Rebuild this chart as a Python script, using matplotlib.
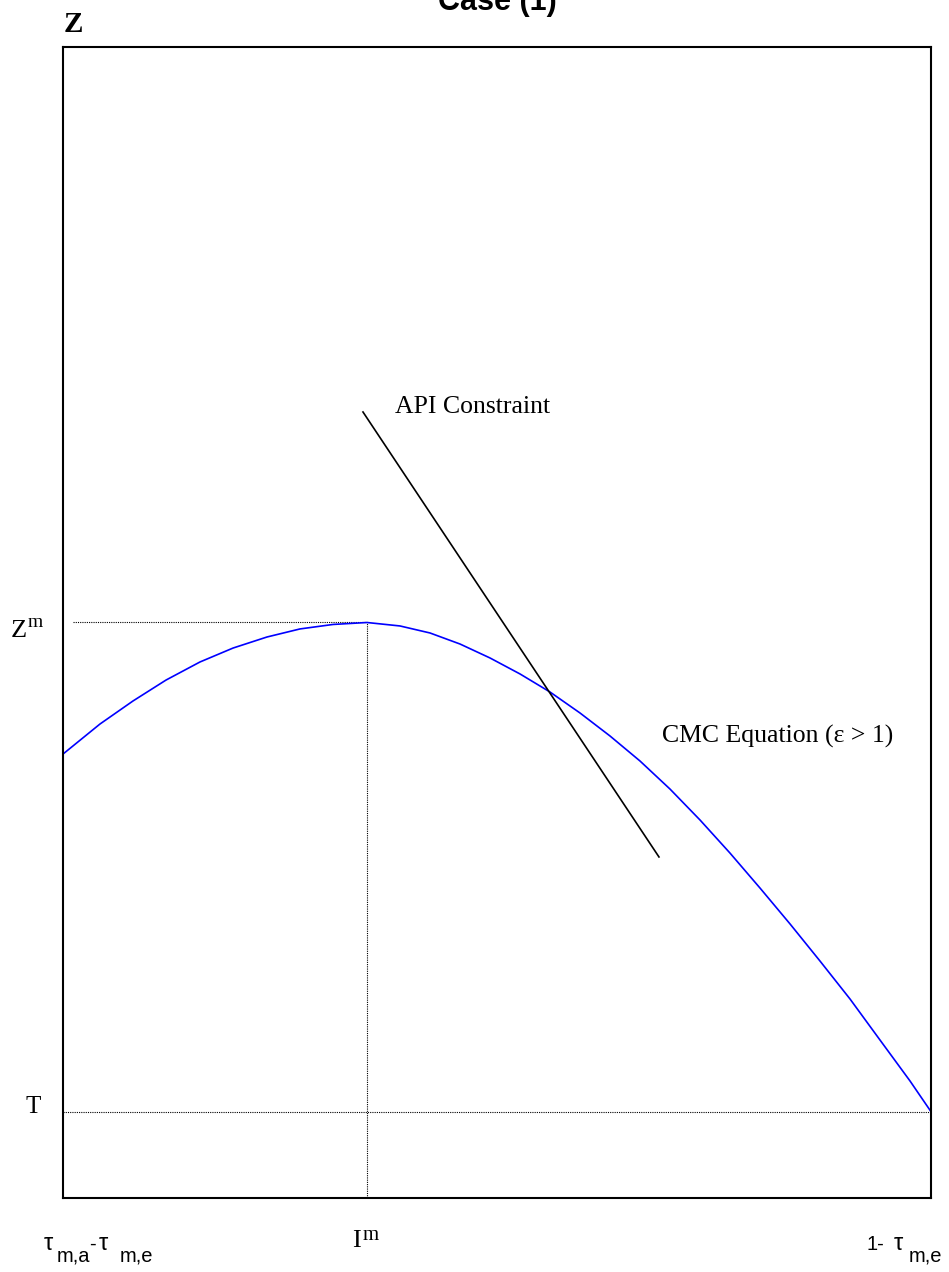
import matplotlib
matplotlib.use("Agg")
import matplotlib.pyplot as plt

# CMC curve (axes run 0..100 both ways)
curve_x = [0, 4.26, 8.06, 11.87, 15.78, 19.59, 23.5, 27.3, 31.11, 35.02,
           38.82, 42.28, 45.74, 49.19, 52.65, 56.11, 59.56, 63.02, 66.47,
           69.93, 73.39, 76.84, 80.3, 83.76, 87.21, 90.67, 94.12, 97.58, 100]
curve_y = [38.57, 41.18, 43.18, 45.0, 46.57, 47.78, 48.74, 49.44, 49.83, 50.0,
           49.7, 49.09, 48.13, 46.92, 45.53, 43.96, 42.14, 40.14, 37.97,
           35.53, 32.84, 29.97, 26.93, 23.81, 20.59, 17.29, 13.73, 10.17, 7.5]

# API constraint segment
api_x = [34.56, 68.66]
api_y = [68.29, 29.63]

# reference levels
x_m = 35.02
z_m = 50.0
t_level = 7.5
zm_start = 1.15

W, H = 949, 1272
plt.rcParams['font.family'] = ['Liberation Serif', 'DejaVu Serif']

fig = plt.figure(figsize=(W / 100, H / 100), dpi=100)
ax = fig.add_axes([63 / W, 1 - 1198 / H, (931 - 63) / W, (1198 - 47) / H])
ax.set_xlim(0, 100)
ax.set_ylim(0, 100)
ax.set_xticks([])
ax.set_yticks([])
for s in ax.spines.values():
    s.set_linewidth(1.5)

dot = (0, (1, 1))
ax.plot([zm_start, x_m], [z_m, z_m], color='black', lw=0.8, ls=dot)
ax.plot([x_m, x_m], [0, z_m], color='black', lw=0.8, ls=dot)
ax.plot([0, 100], [t_level, t_level], color='black', lw=0.8, ls=dot)
ax.plot(curve_x, curve_y, color='blue', lw=1.2)
ax.plot(api_x, api_y, color='black', lw=1.2)


def put(x, y, s, **kw):
    # x, y in pixels from top-left, y is the baseline
    fig.text(x / W, 1 - y / H, s, va='baseline', **kw)


put(395, 413, 'API Constraint', fontsize=18.5)
put(662, 743, 'CMC Equation (\u03b5 > 1)', fontsize=18.5)

# left-side labels
put(64, 32, 'Z', fontsize=21, fontweight='bold')
put(11, 637, 'Z', fontsize=19)
put(28, 627, 'm', fontsize=14)
put(26, 1113, 'T', fontsize=18)

# title, mostly off the top edge
put(497, 10, 'Case (1)', fontsize=22, fontweight='bold', ha='center',
    family=['Liberation Sans', 'DejaVu Sans'])

# bottom labels
sans = ['Liberation Sans', 'DejaVu Sans']
put(44, 1250, '\u03c4', fontsize=17, family=sans)
put(57, 1262, 'm,a', fontsize=14.5, family=sans)
put(89, 1250, '-', fontsize=14.5, family=sans)
put(99, 1250, '\u03c4', fontsize=17, family=sans)
put(120, 1262, 'm,e', fontsize=14.5, family=sans)

put(352, 1247, 'I', fontsize=19)
put(363, 1240, 'm', fontsize=15)

put(866, 1250, '1-', fontsize=14.5, family=sans)
put(894, 1250, '\u03c4', fontsize=17, family=sans)
put(909, 1262, 'm,e', fontsize=14.5, family=sans)

fig.savefig('out.png', dpi=100)
